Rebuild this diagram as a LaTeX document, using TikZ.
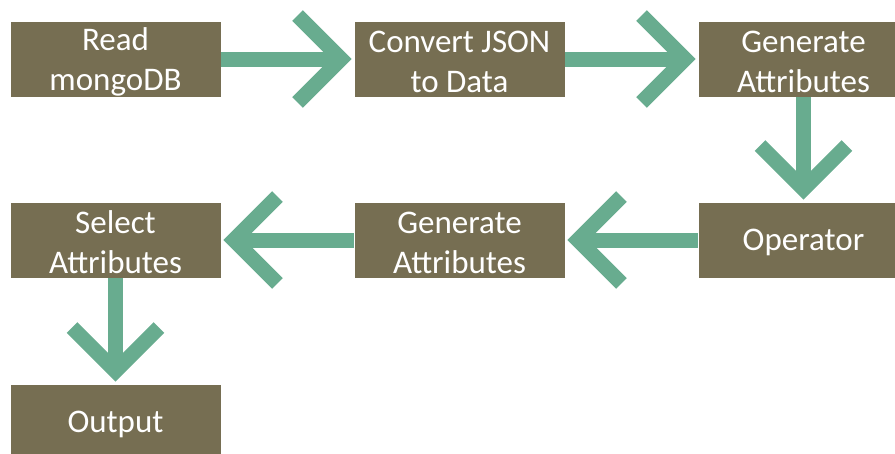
\documentclass[tikz,border=0pt]{standalone}
\usepackage{fontspec}
\setmainfont{Carlito}
\usetikzlibrary{calc}

\definecolor{boxfill}{HTML}{766E52}
\definecolor{flowgreen}{HTML}{68AC8F}

\tikzset{
  stepbox/.style={rectangle, fill=boxfill, draw=white, line width=0.8pt,
    minimum width=211pt, minimum height=76pt, inner sep=0pt,
    label={[text=white, align=center, inner sep=0pt, yshift=-2.5pt,
            font=\fontsize{33}{40}\selectfont]center:{#1}}},
  shaft/.style={draw=flowgreen, line width=15pt, line cap=butt},
  chevron/.style={draw=flowgreen, line width=15pt, line cap=butt, line join=miter}
}

% Thick block arrow: straight shaft plus a 90-degree chevron head,
% the head's point stopping 2pt short of the target anchor.
\newcommand\flowarrow[2]{%
  \coordinate (fa-v) at ($(#2)!12.6pt!(#1)$);
  \draw[shaft] (#1) -- (fa-v);
  \draw[chevron] ($(fa-v)!61.5pt!45:(#1)$) -- (fa-v) -- ($(fa-v)!61.5pt!-45:(#1)$);
}

\begin{document}
\begin{tikzpicture}[x=1pt, y=-1pt]
  \useasboundingbox (0,0) rectangle (895,453);

  \node[stepbox={Read\\mongoDB}]         (read)    at (115.5,59)  {};
  \node[stepbox={Convert JSON\\to Data}] (convert) at (459.5,59)  {};
  \node[stepbox={Generate\\Attributes}]  (gen1)    at (803.5,59)  {};
  \node[stepbox={Operator}]              (oper)    at (803.5,240) {};
  \node[stepbox={Generate\\Attributes}]  (gen2)    at (459.5,240) {};
  \node[stepbox={Select\\Attributes}]    (select)  at (115.5,240) {};
  \node[stepbox={Output}]                (out)     at (115.5,422) {};

  \flowarrow{read.east}{convert.west}
  \flowarrow{convert.east}{gen1.west}
  \flowarrow{gen1.south}{oper.north}
  \flowarrow{oper.west}{gen2.east}
  \flowarrow{gen2.west}{select.east}
  \flowarrow{select.south}{out.north}
\end{tikzpicture}
\end{document}
